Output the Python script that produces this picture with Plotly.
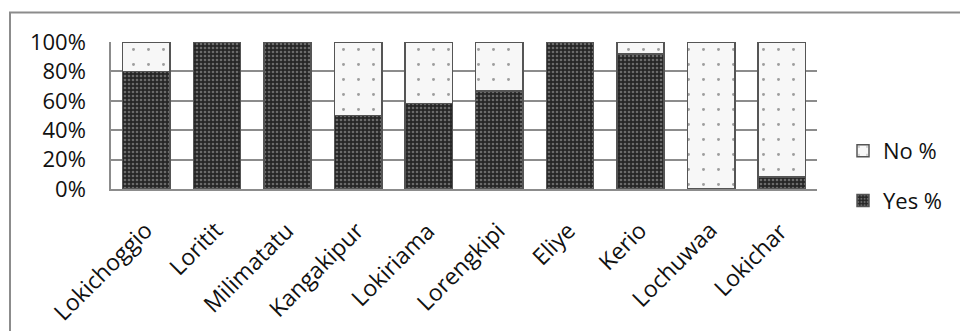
import plotly.graph_objects as go

# Share of respondents answering Yes / No per location
locations = ["Lokichoggio", "Loritit", "Milimatatu", "Kangakipur", "Lokiriama",
             "Lorengkipi", "Eliye", "Kerio", "Lochuwaa", "Lokichar"]
yes_pct = [80.0, 100.0, 100.0, 50.0, 58.3, 66.7, 100.0, 91.7, 0.0, 8.3]
no_pct = [20.0, 0.0, 0.0, 50.0, 41.7, 33.3, 0.0, 8.3, 100.0, 91.7]
y_ticks = [0, 20, 40, 60, 80, 100]
y_tick_text = ["0%", "20%", "40%", "60%", "80%", "100%"]

FONT = "Open Sans"
FS = 22
W, H = 960, 331
L, R, T, B = 111, 143, 42, 142
pw, ph = W - L - R, H - T - B

fig = go.Figure()
fig.add_trace(go.Bar(
    x=locations, y=yes_pct, name="Yes %", legendgroup="yes", legendrank=2,
    marker=dict(
        color="#2e2e2e",
        line=dict(color="#555555", width=1.5),
        pattern=dict(shape=".", fgcolor="#b0b0b0", bgcolor="#262626",
                     size=4, solidity=0.35, fillmode="overlay"),
    ),
))
fig.add_trace(go.Bar(
    x=locations, y=no_pct, name="No %", legendgroup="no", legendrank=1,
    marker=dict(
        color="#f7f7f7",
        line=dict(color="#555555", width=1.5),
        pattern=dict(shape=".", fgcolor="#444444", bgcolor="#f7f7f7",
                     size=15, solidity=0.03, fillmode="overlay"),
    ),
))


# pixel -> paper coordinate helpers
def px_x(v):
    return (v - L) / pw


def px_y(v):
    return (H - B - v) / ph


# outer chart frame (runs past the right and bottom edges of the page)
fig.add_shape(type="rect", xref="paper", yref="paper",
              x0=px_x(10), x1=px_x(990), y0=px_y(360), y1=px_y(12.5),
              line=dict(color="#8c8c8c", width=2), fillcolor="rgba(0,0,0,0)",
              layer="below")

# slanted category labels hung from each category position
for i, name in enumerate(locations):
    fig.add_annotation(
        x=i, xref="x", y=px_y(212), yref="paper",
        text=name, showarrow=False, textangle=-45,
        xanchor="right", yanchor="top", xshift=15,
        font=dict(family=FONT, size=23, color="#111111"),
    )

fig.update_layout(
    width=W, height=H,
    margin=dict(l=L, r=R, t=T, b=B, autoexpand=False),
    barmode="stack", bargap=0.33,
    plot_bgcolor="white", paper_bgcolor="white",
    font=dict(family=FONT, size=FS, color="#111111"),
    showlegend=True,
    legend=dict(x=px_x(843), y=px_y(130), xanchor="left", yanchor="top",
                traceorder="grouped", tracegroupgap=18,
                font=dict(family=FONT, size=FS, color="#111111"),
                itemwidth=30, bgcolor="rgba(0,0,0,0)"),
)
fig.update_xaxes(
    type="category", range=[-0.5, len(locations) - 0.5],
    categoryorder="array", categoryarray=locations,
    showgrid=False, showticklabels=False,
    showline=True, linecolor="#8c8c8c", linewidth=2, ticks="",
)
fig.update_yaxes(
    range=[0, 100], tickvals=y_ticks, ticktext=y_tick_text,
    showgrid=True, gridcolor="#8c8c8c", gridwidth=1.5,
    showline=True, linecolor="#8c8c8c", linewidth=1.5,
    zeroline=False, ticks="", ticklabelstandoff=19,
    tickfont=dict(family=FONT, size=FS),
)

fig.write_html("out.html")
